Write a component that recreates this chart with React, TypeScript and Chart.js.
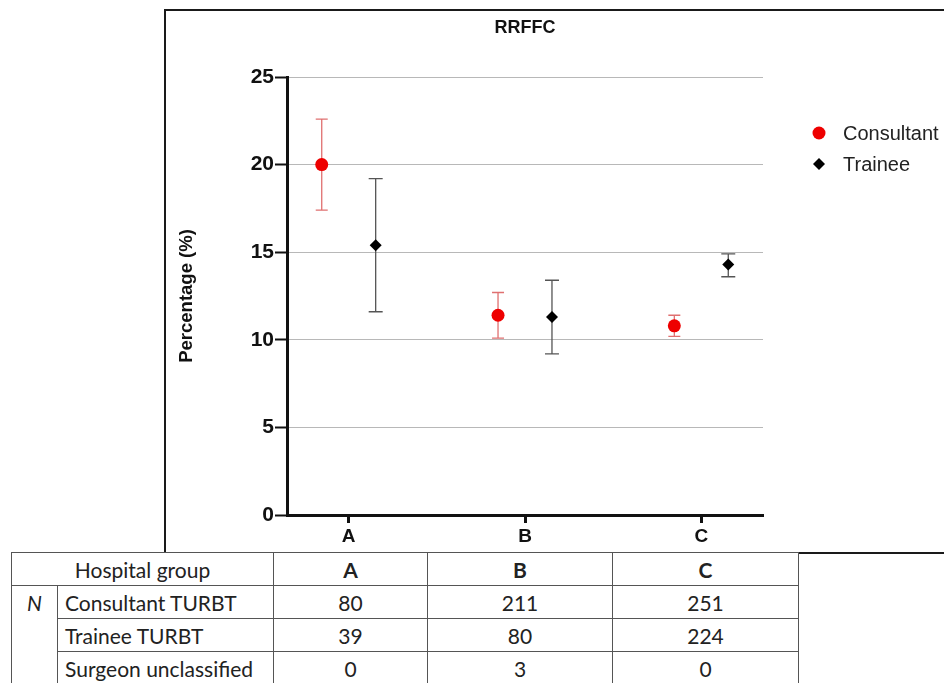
import React, { useEffect, useRef } from 'react';
import { Chart, registerables } from 'chart.js';

Chart.register(...registerables);

// ---- data ----
const categories = ['A', 'B', 'C'];
const seriesNames = ['Consultant', 'Trainee'];
const consultantMean = [20.0, 11.4, 10.8];
const consultantLower = [17.4, 10.1, 10.2];
const consultantUpper = [22.6, 12.7, 11.4];
const traineeMean = [15.4, 11.3, 14.3];
const traineeLower = [11.6, 9.2, 13.6];
const traineeUpper = [19.2, 13.4, 14.9];
const yTickValues = [0, 5, 10, 15, 20, 25];
const chartTitle = 'RRFFC';
const yTitle = 'Percentage (%)';

const tableHeaderLabel = 'Hospital group';
const tableRowLabels = ['Consultant TURBT', 'Trainee TURBT', 'Surgeon unclassified'];
const consultantN = [80, 211, 251];
const traineeN = [39, 80, 224];
const unclassifiedN = [0, 3, 0];
const tableRows = [consultantN, traineeN, unclassifiedN];

const GROUP_OFFSET = 0.153;
const AXIS_FONT = "'Liberation Sans', Arial, sans-serif";
const TABLE_FONT = "Lato, 'Open Sans', sans-serif";

const errorBarPlugin = {
  id: 'errorBars',
  beforeDatasetsDraw(chart: any) {
    const { ctx } = chart;
    const xs = chart.scales.x;
    const ys = chart.scales.y;
    chart.data.datasets.forEach((ds: any) => {
      ds.data.forEach((pt: any, j: number) => {
        const px = xs.getPixelForValue(pt.x);
        const yl = ys.getPixelForValue(ds.lower[j]);
        const yh = ys.getPixelForValue(ds.upper[j]);
        const cap = ds.capHalfWidth;
        ctx.save();
        ctx.strokeStyle = ds.errorColor;
        ctx.lineWidth = 1.3;
        ctx.beginPath();
        ctx.moveTo(px, yl);
        ctx.lineTo(px, yh);
        ctx.moveTo(px - cap, yl);
        ctx.lineTo(px + cap, yl);
        ctx.moveTo(px - cap, yh);
        ctx.lineTo(px + cap, yh);
        ctx.stroke();
        ctx.restore();
      });
    });
  },
};

const titleLegendPlugin = {
  id: 'titleLegend',
  afterDraw(chart: any) {
    const { ctx, chartArea } = chart;
    ctx.save();
    // title
    ctx.fillStyle = '#111';
    ctx.font = `bold 18px ${AXIS_FONT}`;
    ctx.textAlign = 'center';
    ctx.textBaseline = 'middle';
    ctx.fillText(chartTitle, (chartArea.left + chartArea.right) / 2, 28);
    // legend
    ctx.font = `20px ${AXIS_FONT}`;
    ctx.textAlign = 'left';
    chart.data.datasets.forEach((ds: any, i: number) => {
      const cx = chartArea.right + 56;
      const cy = chartArea.top + 56 + i * 31;
      ctx.fillStyle = ds.backgroundColor;
      ctx.beginPath();
      if (ds.pointStyle === 'circle') {
        ctx.arc(cx, cy, 6.5, 0, Math.PI * 2);
      } else {
        const r = 6;
        ctx.moveTo(cx, cy - r);
        ctx.lineTo(cx + r, cy);
        ctx.lineTo(cx, cy + r);
        ctx.lineTo(cx - r, cy);
        ctx.closePath();
      }
      ctx.fill();
      ctx.fillStyle = '#222';
      ctx.fillText(ds.label, cx + 24, cy + 1);
    });
    ctx.restore();
  },
};

function ChartView() {
  const ref = useRef<HTMLCanvasElement | null>(null);
  useEffect(() => {
    if (!ref.current) return;
    const chart = new Chart(ref.current, {
      type: 'scatter',
      data: {
        datasets: [
          {
            label: seriesNames[0],
            data: consultantMean.map((y, i) => ({ x: i + 1 - GROUP_OFFSET, y })),
            lower: consultantLower,
            upper: consultantUpper,
            errorColor: '#e07070',
            capHalfWidth: 6,
            pointStyle: 'circle',
            pointRadius: 6.5,
            backgroundColor: '#ee0000',
            borderColor: '#ee0000',
            borderWidth: 0,
          } as any,
          {
            label: seriesNames[1],
            data: traineeMean.map((y, i) => ({ x: i + 1 + GROUP_OFFSET, y })),
            lower: traineeLower,
            upper: traineeUpper,
            errorColor: '#555555',
            capHalfWidth: 7,
            pointStyle: 'rectRot',
            pointRadius: 6,
            backgroundColor: '#000000',
            borderColor: '#000000',
            borderWidth: 0,
          } as any,
        ],
      },
      options: {
        animation: false,
        responsive: false,
        maintainAspectRatio: false,
        layout: { padding: { left: 170, right: 181, top: 77, bottom: 0 } },
        plugins: {
          legend: { display: false },
          title: { display: false },
          tooltip: { enabled: false },
        },
        scales: {
          x: {
            type: 'linear',
            min: 0.65,
            max: 3.35,
            afterBuildTicks: (scale: any) => {
              scale.ticks = categories.map((_, i) => ({ value: i + 1 }));
            },
            afterFit: (scale: any) => {
              scale.height = 37;
            },
            ticks: {
              callback: (v: any) => categories[Math.round(Number(v)) - 1] ?? '',
              color: '#111',
              font: { family: AXIS_FONT, size: 19, weight: 'bold' },
              padding: 2,
              maxRotation: 0,
            },
            grid: {
              drawOnChartArea: false,
              drawTicks: true,
              tickLength: 8,
              tickColor: '#111',
              tickWidth: 3,
            },
            border: { display: true, color: '#111', width: 3 },
          },
          y: {
            type: 'linear',
            min: 0,
            max: 25,
            afterBuildTicks: (scale: any) => {
              scale.ticks = yTickValues.map((v) => ({ value: v }));
            },
            afterFit: (scale: any) => {
              scale.width = 117;
            },
            ticks: {
              color: '#111',
              font: { family: AXIS_FONT, size: 21, weight: 'bold' },
              padding: 1,
            },
            grid: {
              color: '#b8b8b8',
              lineWidth: 1,
              drawTicks: true,
              tickLength: 12,
              tickColor: '#111',
              tickWidth: 2,
            },
            border: { display: true, color: '#111', width: 3 },
            title: {
              display: true,
              text: yTitle,
              color: '#111',
              font: { family: AXIS_FONT, size: 18.5, weight: 'bold' },
              padding: { top: 6, bottom: 4 },
            },
          },
        },
      },
      plugins: [errorBarPlugin, titleLegendPlugin],
    } as any);
    return () => chart.destroy();
  }, []);
  return (
    <canvas
      ref={ref}
      width={944}
      height={552}
      style={{ position: 'absolute', left: 0, top: 0, width: 944, height: 552, display: 'block' }}
    />
  );
}

const cellBorder = '1.5px solid #555';
const colWidths = [46, 216, 154, 185, 186];

export default function App() {
  const td: React.CSSProperties = {
    border: cellBorder,
    padding: 0,
    height: 32,
    textAlign: 'center',
    verticalAlign: 'middle',
    color: '#222',
    whiteSpace: 'nowrap',
    overflow: 'hidden',
  };
  return (
    <div style={{ position: 'absolute', left: 0, top: 0, width: 944, height: 683, overflow: 'hidden', background: '#fff' }}>
      <ChartView />
      <div
        style={{
          position: 'absolute',
          left: 164,
          top: 9,
          width: 820,
          height: 545,
          boxSizing: 'border-box',
          border: '2px solid #1a1a1a',
          pointerEvents: 'none',
        }}
      />
      <table
        style={{
          position: 'absolute',
          left: 11,
          top: 552,
          borderCollapse: 'collapse',
          tableLayout: 'fixed',
          width: colWidths.reduce((a, b) => a + b, 0),
          fontFamily: TABLE_FONT,
          fontSize: 21,
          background: '#fff',
        }}
      >
        <colgroup>
          {colWidths.map((w, i) => (
            <col key={i} style={{ width: w }} />
          ))}
        </colgroup>
        <tbody>
          <tr>
            <td colSpan={2} style={td}>{tableHeaderLabel}</td>
            {categories.map((c) => (
              <td key={c} style={{ ...td, fontWeight: 'bold' }}>{c}</td>
            ))}
          </tr>
          {tableRows.map((row, r) => (
            <tr key={r}>
              {r === 0 && (
                <td rowSpan={3} style={{ ...td, verticalAlign: 'top', fontStyle: 'italic', paddingTop: 4 }}>N</td>
              )}
              <td style={{ ...td, textAlign: 'left', paddingLeft: 7 }}>{tableRowLabels[r]}</td>
              {row.map((v, i) => (
                <td key={i} style={td}>{v}</td>
              ))}
            </tr>
          ))}
        </tbody>
      </table>
    </div>
  );
}
